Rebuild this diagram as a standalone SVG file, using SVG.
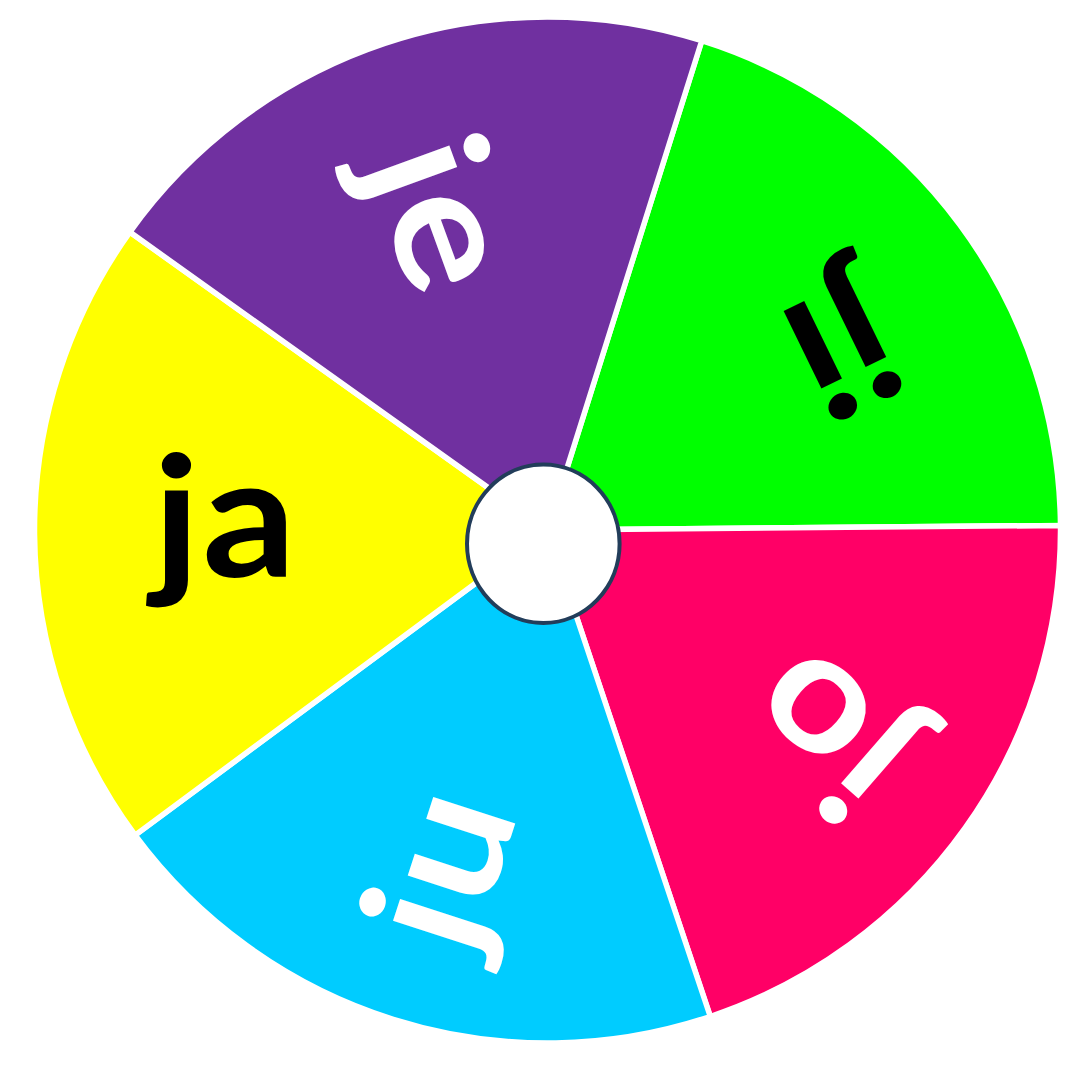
<svg xmlns="http://www.w3.org/2000/svg" width="1077" height="1081" viewBox="0 0 1077 1081">
  <style>
    .slice { stroke: #ffffff; stroke-width: 5.5; stroke-linejoin: miter; }
    .lbl { font-family: Lato, "DejaVu Sans", "Liberation Sans", sans-serif; font-weight: bold; font-size: 168px; letter-spacing: 2px; text-anchor: middle; }
    .dark { fill: #000000; }
    .light { fill: #ffffff; }
  </style>
  <rect width="1077" height="1081" fill="#ffffff"/>
  <g id="seg-ji">
    <path class="slice" fill="#00ff00" d="M547.5,530 L701.76,40.74 A513,513 0 0 1 1060.5,525.5 Z"/>
    <text class="lbl dark" transform="translate(840.7,333.3) rotate(154) scale(1.1,1)" x="6" y="45">ji</text>
  </g>
  <g id="seg-jo">
    <path class="slice" fill="#ff0066" d="M547.5,530 L1060.5,525.5 A513,513 0 0 1 710.27,1016.49 Z"/>
    <text class="lbl light" transform="translate(840,728) rotate(221) scale(1.1,1)" x="6" y="45">jo</text>
  </g>
  <g id="seg-ju">
    <path class="slice" fill="#00ccff" d="M547.5,530 L710.27,1016.49 A513,513 0 0 1 135.12,835.14 Z"/>
    <text class="lbl light" transform="translate(450.5,877.2) rotate(-72) scale(1.1,1)" x="6" y="45">ju</text>
  </g>
  <g id="seg-ja">
    <path class="slice" fill="#ffff00" d="M547.5,530 L135.12,835.14 A513,513 0 0 1 129.86,232.10 Z"/>
    <text class="lbl dark" transform="translate(219,532) scale(1.1,1)" x="6" y="45">ja</text>
  </g>
  <g id="seg-je">
    <path class="slice" fill="#7030a0" d="M547.5,530 L129.86,232.10 A513,513 0 0 1 701.76,40.74 Z"/>
    <text class="lbl light" transform="translate(430,212.7) rotate(70) scale(1.1,1)" x="6" y="45">je</text>
  </g>
  <g id="hub">
    <ellipse cx="543.3" cy="543.8" rx="76.3" ry="79.2" fill="#ffffff" stroke="#223d5a" stroke-width="4"/>
  </g>
</svg>
